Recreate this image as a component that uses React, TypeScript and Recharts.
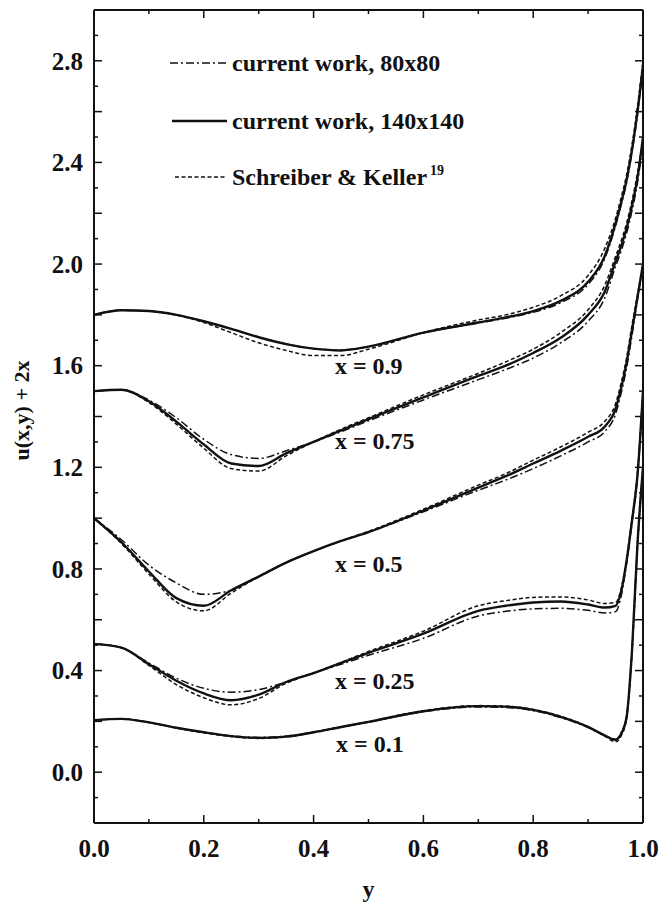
import React from 'react';
import { LineChart, Line, XAxis, YAxis, ReferenceLine, ReferenceDot, Legend } from 'recharts';

// ---------- data ----------
const yGrid = [0, 0.05, 0.1, 0.15, 0.2, 0.25, 0.3, 0.35, 0.4, 0.45, 0.5, 0.6, 0.7, 0.75, 0.8, 0.85, 0.9, 0.93, 0.95, 0.96, 0.97, 0.98, 0.99, 1.0];

// x = 0.9
const x09_140 = [1.80, 1.818, 1.815, 1.80, 1.775, 1.745, 1.712, 1.685, 1.667, 1.66, 1.675, 1.73, 1.77, 1.79, 1.815, 1.855, 1.93, 2.03, 2.16, 2.24, 2.33, 2.45, 2.60, 2.78];
const x09_80 = [1.80, 1.818, 1.815, 1.80, 1.775, 1.745, 1.712, 1.685, 1.667, 1.662, 1.675, 1.73, 1.768, 1.787, 1.81, 1.848, 1.92, 2.02, 2.15, 2.23, 2.32, 2.44, 2.59, 2.78];
const x09_sk = [1.80, 1.818, 1.815, 1.80, 1.77, 1.73, 1.69, 1.66, 1.64, 1.64, 1.665, 1.73, 1.78, 1.80, 1.83, 1.875, 1.955, 2.06, 2.18, 2.26, 2.35, 2.47, 2.62, 2.80];
// x = 0.75
const x075_140 = [1.50, 1.505, 1.46, 1.38, 1.29, 1.215, 1.205, 1.255, 1.30, 1.345, 1.39, 1.475, 1.56, 1.60, 1.65, 1.71, 1.80, 1.89, 2.01, 2.07, 2.14, 2.23, 2.34, 2.50];
const x075_80 = [1.50, 1.505, 1.465, 1.395, 1.31, 1.25, 1.235, 1.265, 1.30, 1.34, 1.383, 1.465, 1.545, 1.585, 1.63, 1.69, 1.775, 1.865, 1.99, 2.05, 2.12, 2.21, 2.32, 2.48];
const x075_sk = [1.50, 1.505, 1.455, 1.37, 1.275, 1.195, 1.185, 1.245, 1.30, 1.35, 1.395, 1.485, 1.57, 1.615, 1.665, 1.73, 1.82, 1.915, 2.03, 2.09, 2.16, 2.25, 2.36, 2.50];
// x = 0.5
const x05_140 = [1.00, 0.905, 0.79, 0.685, 0.655, 0.716, 0.77, 0.825, 0.87, 0.91, 0.945, 1.03, 1.12, 1.165, 1.215, 1.265, 1.32, 1.36, 1.43, 1.51, 1.61, 1.74, 1.87, 2.00];
const x05_80 = [1.00, 0.915, 0.815, 0.745, 0.70, 0.716, 0.77, 0.825, 0.87, 0.91, 0.945, 1.025, 1.11, 1.15, 1.195, 1.245, 1.30, 1.34, 1.41, 1.49, 1.59, 1.72, 1.86, 2.00];
const x05_sk = [1.00, 0.90, 0.78, 0.67, 0.635, 0.705, 0.77, 0.825, 0.87, 0.91, 0.948, 1.035, 1.13, 1.175, 1.228, 1.28, 1.338, 1.38, 1.45, 1.53, 1.63, 1.76, 1.88, 2.00];
// x = 0.25
const x025_140 = [0.505, 0.49, 0.425, 0.36, 0.31, 0.283, 0.305, 0.355, 0.39, 0.43, 0.47, 0.545, 0.635, 0.655, 0.668, 0.672, 0.66, 0.648, 0.655, 0.71, 0.83, 0.99, 1.17, 1.50];
const x025_80 = [0.505, 0.49, 0.43, 0.37, 0.33, 0.315, 0.325, 0.355, 0.39, 0.425, 0.46, 0.527, 0.615, 0.633, 0.643, 0.645, 0.637, 0.627, 0.632, 0.69, 0.82, 0.98, 1.16, 1.50];
const x025_sk = [0.505, 0.49, 0.42, 0.345, 0.293, 0.265, 0.29, 0.35, 0.39, 0.432, 0.475, 0.555, 0.655, 0.675, 0.688, 0.69, 0.678, 0.664, 0.668, 0.72, 0.84, 1.00, 1.18, 1.50];
// x = 0.1
const x01_140 = [0.205, 0.21, 0.196, 0.175, 0.157, 0.142, 0.135, 0.14, 0.157, 0.178, 0.198, 0.24, 0.26, 0.258, 0.245, 0.218, 0.178, 0.145, 0.127, 0.15, 0.215, 0.48, 0.90, 1.20];
const x01_80 = [0.205, 0.21, 0.196, 0.175, 0.157, 0.143, 0.137, 0.142, 0.158, 0.178, 0.197, 0.238, 0.257, 0.255, 0.242, 0.215, 0.176, 0.145, 0.13, 0.155, 0.22, 0.48, 0.90, 1.20];
const x01_sk = [0.205, 0.21, 0.196, 0.174, 0.155, 0.14, 0.133, 0.139, 0.156, 0.178, 0.199, 0.242, 0.262, 0.26, 0.247, 0.22, 0.178, 0.142, 0.12, 0.142, 0.21, 0.47, 0.89, 1.20];

const xTicks = [0, 0.1, 0.2, 0.3, 0.4, 0.5, 0.6, 0.7, 0.8, 0.9, 1.0];
const xMajorTicks = [0, 0.2, 0.4, 0.6, 0.8, 1.0];
const yTicks = [-0.1, 0, 0.1, 0.2, 0.3, 0.4, 0.5, 0.6, 0.7, 0.8, 0.9, 1.0, 1.1, 1.2, 1.3, 1.4, 1.5, 1.6, 1.7, 1.8, 1.9, 2.0, 2.1, 2.2, 2.3, 2.4, 2.5, 2.6, 2.7, 2.8, 2.9];
const yMajorTicks = [0, 0.2, 0.4, 0.6, 0.8, 1.0, 1.2, 1.4, 1.6, 1.8, 2.0, 2.2, 2.4, 2.6, 2.8];
const yLabelTicks = [0, 0.4, 0.8, 1.2, 1.6, 2.0, 2.4, 2.8];

const curveLabels = ['x = 0.9', 'x = 0.75', 'x = 0.5', 'x = 0.25', 'x = 0.1'];
const curveLabelY = [0.437, 0.437, 0.437, 0.437, 0.439];
const curveLabelV = [1.602, 1.307, 0.823, 0.362, 0.114];

const legendLabels = ['current work, 80x80', 'current work, 140x140', 'Schreiber & Keller'];

// ---------- layout / style ----------
const W = 661;
const H = 903;
const M = { top: 10, right: 18, bottom: 0, left: 0 };
const YW = 94;
const XH = 80;
const PL = M.left + YW;
const PR = W - M.right;
const PT = M.top;
const PB = H - M.bottom - XH;
const FONT = "'Liberation Serif', 'Times New Roman', Times, serif";
const INK = '#111';

const STYLE_80 = { strokeDasharray: '8 3 2 3', strokeWidth: 1.5 };
const STYLE_140 = { strokeDasharray: undefined as any, strokeWidth: 2.4 };
const STYLE_SK = { strokeDasharray: '4 2.5', strokeWidth: 1.5 };

const mk = (vals: number[]) => yGrid.map((y, i) => ({ y, v: vals[i] }));

const series = [
  { id: 'x09_80', vals: x09_80, st: STYLE_80 },
  { id: 'x09_sk', vals: x09_sk, st: STYLE_SK },
  { id: 'x09_140', vals: x09_140, st: STYLE_140 },
  { id: 'x075_80', vals: x075_80, st: STYLE_80 },
  { id: 'x075_sk', vals: x075_sk, st: STYLE_SK },
  { id: 'x075_140', vals: x075_140, st: STYLE_140 },
  { id: 'x05_80', vals: x05_80, st: STYLE_80 },
  { id: 'x05_sk', vals: x05_sk, st: STYLE_SK },
  { id: 'x05_140', vals: x05_140, st: STYLE_140 },
  { id: 'x025_80', vals: x025_80, st: STYLE_80 },
  { id: 'x025_sk', vals: x025_sk, st: STYLE_SK },
  { id: 'x025_140', vals: x025_140, st: STYLE_140 },
  { id: 'x01_80', vals: x01_80, st: STYLE_80 },
  { id: 'x01_sk', vals: x01_sk, st: STYLE_SK },
  { id: 'x01_140', vals: x01_140, st: STYLE_140 },
];

const near = (arr: number[], v: number) => arr.some((t) => Math.abs(t - v) < 1e-6);

const YTick = (props: any) => {
  const { y, payload } = props;
  const v = payload.value;
  const len = near(yMajorTicks, v) ? 8 : 4;
  return (
    <g>
      <line x1={PL} x2={PL + len} y1={y} y2={y} stroke={INK} strokeWidth={1.5} />
      <line x1={PR} x2={PR - len} y1={y} y2={y} stroke={INK} strokeWidth={1.5} />
      {near(yLabelTicks, v) && (
        <text x={PL - 11} y={y} dy="0.35em" textAnchor="end" fontFamily={FONT} fontWeight="bold" fontSize={25} fill={INK}>
          {v.toFixed(1)}
        </text>
      )}
    </g>
  );
};

const XTick = (props: any) => {
  const { x, payload } = props;
  const v = payload.value;
  const major = near(xMajorTicks, v);
  const len = major ? 8 : 4;
  return (
    <g>
      <line x1={x} x2={x} y1={PB} y2={PB - len} stroke={INK} strokeWidth={1.5} />
      <line x1={x} x2={x} y1={PT} y2={PT + len} stroke={INK} strokeWidth={1.5} />
      {major && (
        <text x={x} y={PB + 34} textAnchor="middle" fontFamily={FONT} fontWeight="bold" fontSize={25} fill={INK}>
          {v.toFixed(1)}
        </text>
      )}
    </g>
  );
};

const legendRowsY = [63, 121, 177];
const legendStyles = [STYLE_80, STYLE_140, STYLE_SK];
const legendLineX = [[170, 227], [172, 227], [175, 227]];

const LegendContent = () => (
  <svg width={W} height={H} style={{ position: 'absolute', left: 0, top: 0, pointerEvents: 'none' }}>
    {legendLabels.map((lab, i) => (
      <g key={lab}>
        <line
          x1={legendLineX[i][0]}
          x2={legendLineX[i][1]}
          y1={legendRowsY[i]}
          y2={legendRowsY[i]}
          stroke={INK}
          strokeWidth={legendStyles[i].strokeWidth}
          strokeDasharray={legendStyles[i].strokeDasharray}
        />
        <text x={232} y={legendRowsY[i]} dy="0.35em" fontFamily={FONT} fontWeight="bold" fontSize={24} fill={INK}>
          {lab}
          {i === 2 && (
            <tspan fontSize={14} dx={3} dy={-10}>
              19
            </tspan>
          )}
        </text>
      </g>
    ))}
  </svg>
);

const YTitle = (props: any) => {
  const vb = props.viewBox || { x: 0, y: PT, width: YW, height: PB - PT };
  const cx = 21;
  const cy = vb.y + vb.height / 2 - 6;
  return (
    <text
      x={cx}
      y={cy}
      dy="0.35em"
      textAnchor="middle"
      transform={`rotate(-90, ${cx}, ${cy})`}
      fontFamily={FONT}
      fontWeight="bold"
      fontSize={22}
      fill={INK}
    >
      u(x,y) + 2x
    </text>
  );
};

export default function App() {
  return (
    <div style={{ position: 'absolute', left: 0, top: 0, width: W, height: H, background: '#fff', overflow: 'hidden' }}>
      <LineChart width={W} height={H} margin={M}>
        <XAxis
          dataKey="y"
          type="number"
          domain={[0, 1]}
          ticks={xTicks}
          interval={0}
          tickLine={false}
          height={XH}
          axisLine={{ stroke: INK, strokeWidth: 2 }}
          tick={(p: any) => <XTick {...p} />}
          allowDataOverflow
          label={{ value: 'y', position: 'insideBottom', offset: 6, fontFamily: FONT, fontWeight: 'bold', fontSize: 24, fill: INK }}
        />
        <YAxis
          type="number"
          domain={[-0.2, 3.0]}
          ticks={yTicks}
          interval={0}
          tickLine={false}
          width={YW}
          axisLine={{ stroke: INK, strokeWidth: 2 }}
          tick={(p: any) => <YTick {...p} />}
          allowDataOverflow
          label={{ content: (p: any) => <YTitle {...p} /> }}
        />
        <ReferenceLine y={3.0} stroke={INK} strokeWidth={2} ifOverflow="visible" />
        <ReferenceLine x={1.0} stroke={INK} strokeWidth={2} ifOverflow="visible" />
        {series.map((s) => (
          <Line
            key={s.id}
            data={mk(s.vals)}
            dataKey="v"
            type="monotone"
            stroke={INK}
            strokeWidth={s.st.strokeWidth}
            strokeDasharray={s.st.strokeDasharray}
            dot={false}
            activeDot={false}
            isAnimationActive={false}
          />
        ))}
        {curveLabels.map((lab, i) => (
          <ReferenceDot
            key={lab}
            x={curveLabelY[i]}
            y={curveLabelV[i]}
            r={1}
            fill="none"
            stroke="none"
            label={{ value: lab, position: 'right', offset: 0, fontFamily: FONT, fontWeight: 'bold', fontSize: 24, fill: INK }}
          />
        ))}
        <Legend
          layout="horizontal"
          verticalAlign="middle"
          align="center"
          content={() => <LegendContent />}
          wrapperStyle={{ left: 0, top: 0, width: W, height: H, pointerEvents: 'none' }}
        />
      </LineChart>
    </div>
  );
}
